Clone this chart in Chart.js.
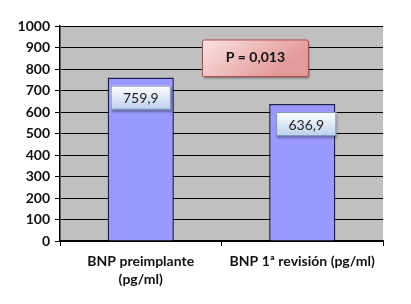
<!DOCTYPE html>
<html>
<head>
<meta charset="utf-8">
<script src="https://cdn.jsdelivr.net/npm/chart.js@4"></script>
<style>
  html, body { margin: 0; padding: 0; background: #fff; }
  #wrap { width: 411px; height: 304px; }
</style>
</head>
<body>
<div id="wrap"><canvas id="bnp-chart" width="411" height="304"></canvas></div>
<script>
// Data
const categories = [['BNP preimplante', '(pg/ml)'], 'BNP 1ª revisión (pg/ml)'];
const bnpValues = [759.9, 636.9];
const valueLabels = ['759,9', '636,9'];
const yTicks = [0, 100, 200, 300, 400, 500, 600, 700, 800, 900, 1000];
const pValueText = 'P = 0,013';

const FONT = 'Lato, "Open Sans", sans-serif';

function roundRect(ctx, x, y, w, h, r) {
    ctx.beginPath();
    ctx.moveTo(x + r, y);
    ctx.lineTo(x + w - r, y);
    ctx.quadraticCurveTo(x + w, y, x + w, y + r);
    ctx.lineTo(x + w, y + h - r);
    ctx.quadraticCurveTo(x + w, y + h, x + w - r, y + h);
    ctx.lineTo(x + r, y + h);
    ctx.quadraticCurveTo(x, y + h, x, y + h - r);
    ctx.lineTo(x, y + r);
    ctx.quadraticCurveTo(x, y, x + r, y);
    ctx.closePath();
}

// gray plot background
const plotBackground = {
    id: 'plotBackground',
    beforeDraw(chart) {
        const { ctx, chartArea } = chart;
        ctx.save();
        ctx.fillStyle = '#c0c0c0';
        ctx.fillRect(chartArea.left, chartArea.top, chartArea.right - chartArea.left, chartArea.bottom - chartArea.top);
        ctx.restore();
    }
};

// value boxes on the bars + the P box
const annotations = {
    id: 'annotations',
    afterDatasetsDraw(chart) {
        const { ctx } = chart;
        const meta = chart.getDatasetMeta(0);
        ctx.save();
        meta.data.forEach((bar, i) => {
            const w = bar.width - 6;
            const h = 24;
            const x = bar.x - w / 2 + (i === 1 ? 4 : 0);
            const y = bar.y + 8;
            ctx.shadowColor = 'rgba(0,0,0,0.35)';
            ctx.shadowOffsetX = 1;
            ctx.shadowOffsetY = 2;
            ctx.shadowBlur = 2;
            const g = ctx.createLinearGradient(0, y, 0, y + h);
            g.addColorStop(0, '#ffffff');
            g.addColorStop(1, '#bcd0ec');
            ctx.fillStyle = g;
            ctx.fillRect(x, y, w, h);
            ctx.shadowColor = 'transparent';
            ctx.strokeStyle = '#7f93b8';
            ctx.lineWidth = 1;
            ctx.strokeRect(x + 0.5, y + 0.5, w - 1, h - 1);
            ctx.fillStyle = '#222';
            ctx.font = '14px ' + FONT;
            ctx.textAlign = 'center';
            ctx.textBaseline = 'middle';
            ctx.fillText(valueLabels[i], x + w / 2, y + h / 2 + 1);
        });

        // P box
        const xs = chart.scales.x, ys = chart.scales.y;
        const cx = xs.getPixelForValue(0.71);
        const top = ys.getPixelForValue(935);
        const bottom = ys.getPixelForValue(765);
        const bw = 106;
        const bx = cx - bw / 2;
        ctx.shadowColor = 'rgba(0,0,0,0.35)';
        ctx.shadowOffsetX = 1;
        ctx.shadowOffsetY = 2;
        ctx.shadowBlur = 2;
        const pg = ctx.createLinearGradient(bx, top, bx + bw * 0.4, bottom + 20);
        pg.addColorStop(0, '#fbe3e3');
        pg.addColorStop(1, '#e49a9a');
        ctx.fillStyle = pg;
        roundRect(ctx, bx, top, bw, bottom - top, 2);
        ctx.fill();
        ctx.shadowColor = 'transparent';
        ctx.strokeStyle = '#b04848';
        ctx.lineWidth = 1;
        ctx.stroke();
        ctx.fillStyle = '#111';
        ctx.font = 'bold 14px ' + FONT;
        ctx.textAlign = 'center';
        ctx.textBaseline = 'middle';
        ctx.fillText(pValueText, cx, top + (bottom - top) / 2 - 1);
        ctx.restore();
    }
};

const ctx = document.getElementById('bnp-chart').getContext('2d');
new Chart(ctx, {
    type: 'bar',
    data: {
        labels: categories,
        datasets: [{
            data: bnpValues,
            backgroundColor: '#9999ff',
            borderColor: '#1f1f4f',
            borderWidth: 1.5,
            categoryPercentage: 0.82,
            barPercentage: 0.5
        }]
    },
    options: {
        responsive: false,
        animation: false,
        devicePixelRatio: 1,
        layout: { padding: { top: 26, right: 28, bottom: 0, left: 0 } },
        plugins: {
            legend: { display: false },
            tooltip: { enabled: false }
        },
        scales: {
            x: {
                offset: true,
                grid: {
                    offset: true,
                    drawOnChartArea: false,
                    drawTicks: true,
                    tickLength: 5,
                    color: '#000'
                },
                border: { color: '#000', width: 1.5 },
                ticks: {
                    color: '#111',
                    font: { family: FONT, size: 14, weight: 'bold', lineHeight: 1.3 },
                    padding: 6,
                    maxRotation: 0,
                    autoSkip: false
                },
                afterFit(scale) { scale.height = 63; }
            },
            y: {
                min: 0,
                max: 1000,
                afterBuildTicks(scale) { scale.ticks = yTicks.map(v => ({ value: v })); },
                grid: { color: '#000', lineWidth: 1, tickLength: 5 },
                border: { color: '#000', width: 1.5 },
                ticks: {
                    color: '#111',
                    font: { family: FONT, size: 14, weight: 'bold' },
                    padding: 5,
                    callback: v => String(v)
                },
                afterFit(scale) { scale.width = 60; }
            }
        }
    },
    plugins: [plotBackground, annotations]
});
</script>
</body>
</html>
